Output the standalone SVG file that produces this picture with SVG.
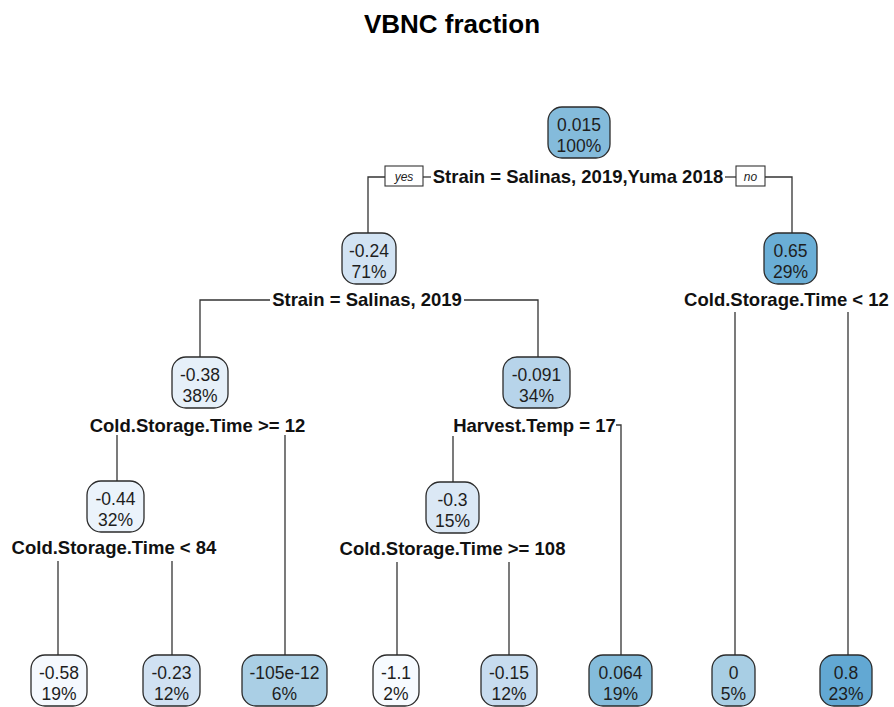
<svg xmlns="http://www.w3.org/2000/svg" width="894" height="707" viewBox="0 0 894 707">
<style>
.node rect{stroke:#2b2b2b;stroke-width:1.3}
.node text{font-family:"Liberation Sans",Arial,sans-serif;font-size:17.5px;fill:#1e1e1e;text-anchor:middle}
.split{font-family:"Liberation Sans",Arial,sans-serif;font-size:18.5px;font-weight:bold;fill:#111;text-anchor:middle}
.title{font-family:"Liberation Sans",Arial,sans-serif;font-size:26px;font-weight:bold;fill:#000;text-anchor:middle}
.conn{fill:none;stroke:#333;stroke-width:1.3}
.yn rect{fill:#fff;stroke:#333;stroke-width:1.1}
.yn text{font-family:"Liberation Sans",Arial,sans-serif;font-size:12px;font-style:italic;fill:#222;text-anchor:middle}
</style>
<rect width="894" height="707" fill="#fff"/>
<text class="title" x="452" y="33">VBNC fraction</text>

<g id="connectors" class="conn">
<path d="M385,177 H368 V233"/>
<path d="M423,177 H431"/>
<path d="M725,177 H736"/>
<path d="M765,177 H792 V233"/>
<path d="M270,300 H200 V357"/>
<path d="M464,300 H538 V357"/>
<path d="M735,312 V655"/>
<path d="M848,312 V655"/>
<path d="M117,435 V481"/>
<path d="M285,435 V655"/>
<path d="M453,436 V482"/>
<path d="M616,425 H621 V655"/>
<path d="M58,561 V655"/>
<path d="M172,561 V655"/>
<path d="M397,562 V655"/>
<path d="M509,562 V655"/>
</g>

<g id="yes-label" class="yn"><rect x="385" y="166" width="38" height="20"/><text x="404" y="181">yes</text></g>
<g id="no-label" class="yn"><rect x="736" y="166" width="29" height="20"/><text x="750.5" y="181">no</text></g>

<text class="split" x="578" y="183">Strain = Salinas, 2019,Yuma 2018</text>
<text class="split" x="367" y="306">Strain = Salinas, 2019</text>
<text class="split" x="786.5" y="306">Cold.Storage.Time &lt; 12</text>
<text class="split" x="197.5" y="432">Cold.Storage.Time &gt;= 12</text>
<text class="split" x="534.5" y="432">Harvest.Temp = 17</text>
<text class="split" x="114" y="554">Cold.Storage.Time &lt; 84</text>
<text class="split" x="452.5" y="555">Cold.Storage.Time &gt;= 108</text>

<g id="n1" class="node"><rect x="548" y="107" width="62" height="51" rx="14" fill="#84bbdb"/><text x="579" y="131">0.015</text><text x="579" y="152">100%</text></g>
<g id="n2" class="node"><rect x="342" y="233" width="54" height="51" rx="14" fill="#d2e3f3"/><text x="369" y="257">-0.24</text><text x="369" y="278">71%</text></g>
<g id="n3" class="node"><rect x="764" y="233" width="53" height="51" rx="14" fill="#6aaed6"/><text x="790.5" y="257">0.65</text><text x="790.5" y="278">29%</text></g>
<g id="n4" class="node"><rect x="172" y="357" width="56" height="51" rx="14" fill="#e6f0f9"/><text x="200" y="381">-0.38</text><text x="200" y="402">38%</text></g>
<g id="n5" class="node"><rect x="503" y="357" width="67" height="51" rx="14" fill="#b7d4ea"/><text x="536.5" y="381">-0.091</text><text x="536.5" y="402">34%</text></g>
<g id="n8" class="node"><rect x="87" y="481" width="57" height="51" rx="14" fill="#ebf3fb"/><text x="115.5" y="505">-0.44</text><text x="115.5" y="526">32%</text></g>
<g id="n10" class="node"><rect x="426" y="482" width="53" height="51" rx="14" fill="#dbe8f5"/><text x="452.5" y="506">-0.3</text><text x="452.5" y="527">15%</text></g>

<g id="leaf1" class="node"><rect x="31" y="655" width="56" height="51" rx="14" fill="#f5f9fe"/><text x="59" y="679">-0.58</text><text x="59" y="700">19%</text></g>
<g id="leaf2" class="node"><rect x="143" y="655" width="57" height="51" rx="14" fill="#d0e1f2"/><text x="171.5" y="679">-0.23</text><text x="171.5" y="700">12%</text></g>
<g id="leaf3" class="node"><rect x="242" y="655" width="85" height="51" rx="14" fill="#aacfe5"/><text x="284.5" y="679">-105e-12</text><text x="284.5" y="700">6%</text></g>
<g id="leaf4" class="node"><rect x="373" y="655" width="46" height="51" rx="14" fill="#f7fbff"/><text x="396" y="679">-1.1</text><text x="396" y="700">2%</text></g>
<g id="leaf5" class="node"><rect x="481" y="655" width="56" height="51" rx="14" fill="#c7dcef"/><text x="509" y="679">-0.15</text><text x="509" y="700">12%</text></g>
<g id="leaf6" class="node"><rect x="589" y="655" width="63" height="51" rx="14" fill="#84bcdb"/><text x="620.5" y="679">0.064</text><text x="620.5" y="700">19%</text></g>
<g id="leaf7" class="node"><rect x="712" y="655" width="43" height="51" rx="14" fill="#a8cee4"/><text x="733.5" y="679">0</text><text x="733.5" y="700">5%</text></g>
<g id="leaf8" class="node"><rect x="820" y="655" width="52" height="51" rx="14" fill="#62a8d3"/><text x="846" y="679">0.8</text><text x="846" y="700">23%</text></g>
</svg>
